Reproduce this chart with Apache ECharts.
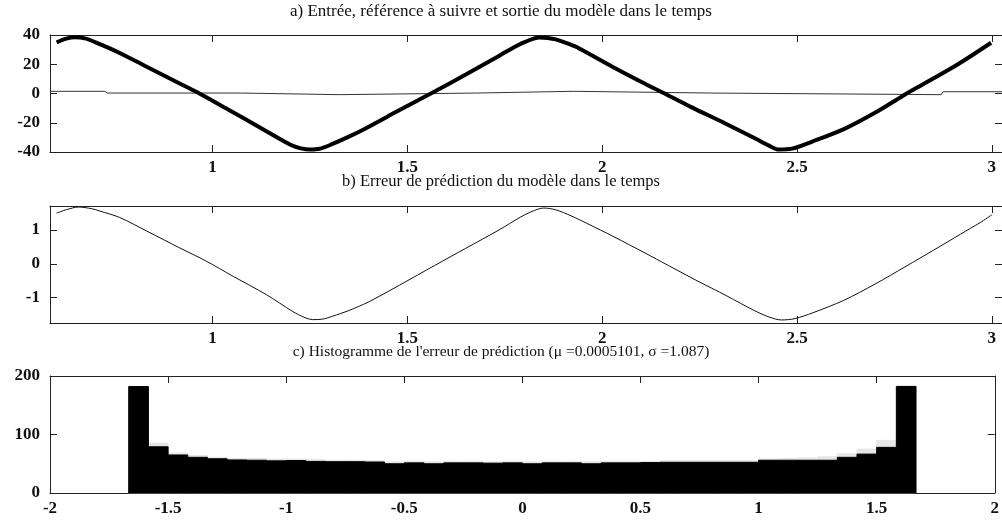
<!DOCTYPE html>
<html>
<head>
<meta charset="UTF-8">
<title></title>
<script src="https://cdn.jsdelivr.net/npm/echarts@6/dist/echarts.min.js"></script>
</head>
<body style="margin:0;background:#fff;">
<div id="chart" style="width:1002px;height:520px;"></div>
<script>
// a) sortie du modele (trait epais)
var tSortie = [0.600, 0.625, 0.647, 0.675, 0.700, 0.735, 0.767, 0.826, 0.912, 0.963, 1.040, 1.125, 1.200, 1.227, 1.250, 1.275,
	1.308, 1.350, 1.394, 1.479, 1.564, 1.650, 1.735, 1.780, 1.804, 1.838, 1.860, 1.881, 1.915, 1.940, 2.025, 2.111,
	2.160, 2.230, 2.316, 2.393, 2.427, 2.453, 2.487, 2.538, 2.623, 2.708, 2.772, 2.828, 2.913, 2.998];
var ySortie = [35.0, 37.5, 38.4, 37.5, 35.0, 31.0, 27.0, 19.0, 7.4, 0.5, -11.0, -23.7, -35.0, -37.5, -38.3, -37.8,
	-34.5, -29.5, -23.7, -11.5, 0.5, 13.0, 25.7, 32.5, 35.5, 38.3, 38.0, 37.0, 33.8, 31.0, 18.5, 6.5,
	0, -9.5, -20.5, -30.8, -35.5, -38.3, -37.7, -33.0, -24.0, -12.0, -1.5, 7.0, 20.0, 34.7];

// a) entree / reference (trait fin pres de zero)
var tEntree = [0.583, 0.724, 0.730, 1.075, 1.080, 1.325, 1.330, 1.675, 1.680, 1.927, 1.932, 2.280, 2.285, 2.870, 2.875, 3.026];
var yEntree = [1.5, 1.5, 0.3, 0.3, -0.8, -0.8, 0.3, 0.3, 1.5, 1.5, 0.3, 0.3, -0.8, -0.8, 1.2, 1.2];

// b) erreur de prediction
var tErreur = [0.600, 0.625, 0.656, 0.690, 0.711, 0.762, 0.831, 0.916, 0.984, 1.053, 1.138, 1.206, 1.235, 1.257, 1.280, 1.308,
	1.350, 1.400, 1.480, 1.570, 1.650, 1.735, 1.790, 1.820, 1.850, 1.880, 1.920, 1.960, 2.030, 2.110, 2.170, 2.240,
	2.320, 2.390, 2.430, 2.460, 2.495, 2.540, 2.620, 2.700, 2.780, 2.850, 2.920, 2.970, 3.000];
var yErreur = [1.50, 1.60, 1.68, 1.63, 1.56, 1.37, 0.97, 0.47, 0.08, -0.37, -0.91, -1.41, -1.58, -1.65, -1.64, -1.55,
	-1.38, -1.13, -0.63, -0.05, 0.46, 1.00, 1.38, 1.55, 1.65, 1.60, 1.42, 1.20, 0.80, 0.32, -0.05, -0.48,
	-0.95, -1.38, -1.58, -1.66, -1.62, -1.45, -1.08, -0.60, -0.07, 0.40, 0.88, 1.22, 1.45];

// c) histogramme (40 classes entre -5/3 et 5/3)
var histMin = -1.6667;
var histMax = 1.6667;
var histNoir = [182, 79, 65, 61, 58.5, 56.5, 56, 55, 55.5, 54, 53.5, 53.5, 53, 50, 51.5, 50, 51.5, 51.5, 51, 51.5,
	50, 51.5, 51.5, 50, 51.5, 51.5, 52, 52.5, 52.5, 52.5, 52.5, 52.5, 56, 56, 56, 56, 61, 66.5, 78, 182];
var histGris = [182, 85, 68, 64, 61, 59, 59, 58, 58, 57, 56, 56, 55, 53, 54, 53, 54, 54, 53, 54,
	53, 54, 54, 53, 54, 54, 54, 55, 55, 55, 55, 55, 58, 59, 60, 62, 67, 75, 90, 184];

var ticksTemps = [1, 1.5, 2, 2.5, 3];
var ticksErreur = [-1, 0, 1];

var titres = [
	"a) Entrée, référence à suivre et sortie du modèle dans le temps",
	"b) Erreur de prédiction du modèle dans le temps",
	"c) Histogramme de l'erreur de prédiction (μ =0.0005101, σ =1.087)"
];

function zip(t, v) {
	var r = [];
	for (var i = 0; i < t.length; i++) r.push([t[i], v[i]]);
	return r;
}

var noir = '#222';
var police = 'Liberation Serif';
var lab = {color: '#111', fontFamily: police, fontSize: 17, fontWeight: 'bold'};

// axes d'un cadre : bas/haut, gauche/droite, graduations vers l'interieur
function axesX(g, min, max, opt) {
	var bas = {
		type: 'value', gridIndex: g, position: 'bottom', min: min, max: max,
		axisLine: {show: true, onZero: false, lineStyle: {color: noir, width: 1}},
		axisTick: {show: true, inside: true, length: 7, lineStyle: {color: noir}},
		axisLabel: Object.assign({margin: 7}, lab),
		splitLine: {show: false}
	};
	var haut = {
		type: 'value', gridIndex: g, position: 'top', min: min, max: max,
		axisLine: {show: true, onZero: false, lineStyle: {color: noir, width: 1}},
		axisTick: {show: true, inside: true, length: 7, lineStyle: {color: noir}},
		axisLabel: {show: false},
		splitLine: {show: false}
	};
	if (opt.interval) {
		bas.interval = haut.interval = opt.interval;
	}
	if (opt.valeurs) {
		bas.axisTick.customValues = opt.valeurs;
		bas.axisLabel.customValues = opt.valeurs;
		haut.axisTick.customValues = opt.valeurs;
	}
	return [bas, haut];
}

function axesY(g, min, max, opt) {
	var gauche = {
		type: 'value', gridIndex: g, position: 'left', min: min, max: max,
		axisLine: {show: true, onZero: false, lineStyle: {color: noir, width: 1}},
		axisTick: {show: true, inside: true, length: 7, lineStyle: {color: noir}},
		axisLabel: Object.assign({margin: 10}, lab),
		splitLine: {show: false}
	};
	var droite = {
		type: 'value', gridIndex: g, position: 'right', min: min, max: max,
		axisLine: {show: true, onZero: false, lineStyle: {color: noir, width: 1}},
		axisTick: {show: true, inside: true, length: 7, lineStyle: {color: noir}},
		axisLabel: {show: false},
		splitLine: {show: false}
	};
	if (opt.interval) {
		gauche.interval = droite.interval = opt.interval;
	}
	if (opt.valeurs) {
		gauche.axisTick.customValues = opt.valeurs;
		gauche.axisLabel.customValues = opt.valeurs;
		droite.axisTick.customValues = opt.valeurs;
	}
	return [gauche, droite];
}

var tMin = 0.583, tMax = 3.026;
var xAxes = [].concat(
	axesX(0, tMin, tMax, {valeurs: ticksTemps}),
	axesX(1, tMin, tMax, {valeurs: ticksTemps}),
	axesX(2, -2, 2, {interval: 0.5})
);
var yAxes = [].concat(
	axesY(0, -40, 40, {interval: 20}),
	axesY(1, -1.75, 1.71, {valeurs: ticksErreur}),
	axesY(2, 0, 200, {interval: 100})
);

var largeur = (histMax - histMin) / histNoir.length;
function classes(valeurs) {
	var d = [];
	for (var i = 0; i < valeurs.length; i++) {
		d.push([histMin + i * largeur, histMin + (i + 1) * largeur, valeurs[i]]);
	}
	return d;
}
function barres(couleur) {
	return function (params, api) {
		var p0 = api.coord([api.value(0), api.value(2)]);
		var p1 = api.coord([api.value(1), 0]);
		return {
			type: 'rect',
			shape: {x: p0[0], y: p0[1], width: p1[0] - p0[0], height: p1[1] - p0[1]},
			style: {fill: couleur, stroke: couleur, lineWidth: 1}
		};
	};
}

var myChart = echarts.init(document.getElementById('chart'));
myChart.setOption({
	animation: false,
	backgroundColor: '#fff',
	title: titres.map(function (t, i) {
		return {
			text: t, left: 'center', top: [3, 173, 344][i], padding: 0,
			textStyle: {fontFamily: police, fontSize: [17, 16.5, 15.5][i], fontWeight: 'normal', color: '#111'}
		};
	}),
	grid: [
		{left: 50, top: 35, width: 954, height: 117},
		{left: 50, top: 206, width: 954, height: 117},
		{left: 50, top: 376, width: 954, height: 117}
	],
	xAxis: xAxes,
	yAxis: yAxes,
	series: [
		{
			type: 'line', xAxisIndex: 0, yAxisIndex: 0, data: zip(tEntree, yEntree),
			showSymbol: false, lineStyle: {color: '#333', width: 1}
		},
		{
			type: 'line', xAxisIndex: 0, yAxisIndex: 0, data: zip(tSortie, ySortie),
			showSymbol: false, smooth: 0.3, lineStyle: {color: '#000', width: 4}
		},
		{
			type: 'line', xAxisIndex: 2, yAxisIndex: 2, data: zip(tErreur, yErreur),
			showSymbol: false, smooth: 0.3, lineStyle: {color: '#111', width: 1}
		},
		{
			type: 'custom', xAxisIndex: 4, yAxisIndex: 4, data: classes(histGris),
			encode: {x: [0, 1], y: 2}, renderItem: barres('#e6e6e6'), z: 1
		},
		{
			type: 'custom', xAxisIndex: 4, yAxisIndex: 4, data: classes(histNoir),
			encode: {x: [0, 1], y: 2}, renderItem: barres('#000'), z: 2
		}
	]
});
</script>
</body>
</html>
